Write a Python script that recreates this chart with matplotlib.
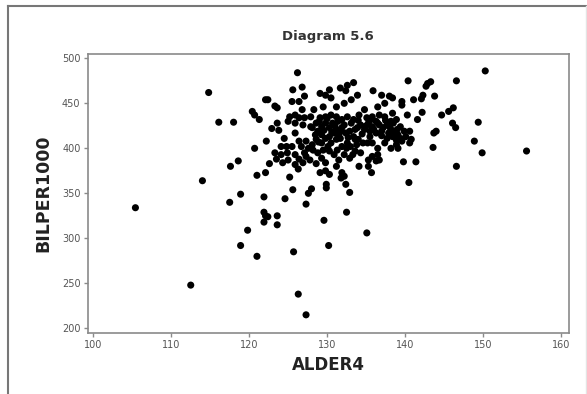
import numpy as np
import matplotlib
matplotlib.use("Agg")
import matplotlib.pyplot as plt
from matplotlib.lines import Line2D

# ALDER4 / BILPER1000 pairs
alder4 = [
    105.4, 112.5, 114.0, 114.8, 116.1, 118.0, 117.6, 118.6, 117.5, 118.9,
    118.9, 119.8, 121.0, 120.7, 120.4, 120.7, 121.3, 121.0, 121.9, 121.9,
    122.1, 121.9, 122.4, 123.6, 123.6, 122.1, 122.4, 123.3, 123.6, 122.2,
    122.1, 122.6, 122.9, 123.6, 123.8, 123.5, 124.6, 125.2, 125.6, 125.7,
    126.3, 127.3, 126.2, 125.6, 124.8, 125.0, 124.3, 125.9, 126.3, 125.9,
    127.3, 127.6, 128.0, 129.6, 129.9, 129.9, 130.2, 132.5, 132.9, 132.4,
    131.8, 135.1, 135.7, 140.5, 139.8, 141.4, 143.6, 146.6, 149.9, 148.9,
    149.4, 155.6, 150.3, 146.6, 140.4, 142.9, 143.3, 142.7, 143.8, 142.3,
    142.1, 141.1, 142.2, 141.6, 140.3, 140.6, 143.7, 144.0, 144.7, 145.6,
    146.2, 146.1, 146.5, 139.6, 139.6,
    126.8, 127.1, 126.4, 129.1, 129.8, 130.3, 130.5, 131.7, 132.4, 132.6,
    133.4, 133.9, 133.1, 132.2, 131.2, 135.9, 137.0, 138.0, 138.4, 136.5,
    137.4, 134.8, 129.5, 128.3, 127.9, 127.1, 125.9, 125.2, 125.0, 125.9,
    126.9, 127.9,
    128.8, 129.3, 129.8, 130.3, 130.7, 131.2, 131.5, 131.9, 132.4, 132.9,
    133.4, 133.9, 134.3, 134.8, 135.3, 135.8, 136.3, 136.7, 137.2, 137.7,
    138.2, 138.7, 139.1, 139.4, 138.9, 138.4, 137.9, 137.0, 136.3, 135.5,
    134.6, 133.6, 132.6, 131.9, 131.2, 130.5, 129.8, 129.3, 128.6, 128.1,
    127.6, 127.1, 126.7, 126.4, 127.3, 128.2, 128.8, 129.3, 129.8, 130.3,
    130.9, 131.5, 132.2, 132.9, 133.6, 134.3, 135.3, 135.8, 136.3, 136.7,
    136.5, 137.4, 138.9, 139.6, 139.9, 140.1, 139.4, 138.9, 138.2, 137.4,
    138.4, 136.7, 135.8, 135.1, 134.1, 133.4, 132.6, 131.9, 131.2, 130.5,
    129.8, 129.1, 128.6, 128.1, 129.3, 130.3, 130.9, 131.7, 133.0, 134.0,
    135.2, 135.8, 135.5, 137.7, 140.6, 140.8, 139.1, 138.2, 127.3, 127.8,
    126.9, 126.4, 125.9, 125.5, 128.6, 129.1, 129.8, 130.3, 131.2, 131.9,
    134.1, 135.3, 136.5, 132.2, 124.5, 124.9, 124.1, 123.3, 124.1, 125.5,
    126.8, 126.4,
    128.5, 129.0, 129.6, 130.0, 130.6, 131.0, 131.4, 131.8, 132.2, 132.7,
    133.1, 133.6, 134.0, 134.5, 135.0, 135.5, 136.0, 136.5, 137.0, 137.5,
    138.0, 138.5, 139.0, 130.1, 131.3, 132.5, 133.3, 129.5, 128.9, 133.8,
]
bilper1000 = [
    334, 248, 364, 462, 429, 429, 380, 386, 340, 349,
    292, 309, 280, 400, 441, 437, 432, 370, 346, 329,
    325, 318, 324, 325, 315, 454, 454, 447, 445, 408,
    373, 383, 422, 428, 420, 388, 344, 368, 354, 285,
    238, 215, 484, 465, 402, 387, 384, 382, 377, 417,
    338, 350, 355, 320, 360, 356, 292, 329, 351, 360,
    367, 306, 373, 362, 385, 385, 401, 380, 395, 408,
    429, 397, 486, 475, 475, 472, 474, 469, 458, 459,
    455, 454, 440, 432, 437, 406, 417, 419, 437, 441,
    445, 428, 423, 452, 448,
    468, 458, 452, 461, 459, 465, 456, 467, 464, 470,
    473, 459, 454, 450, 446, 464, 459, 458, 456, 446,
    450, 443, 446, 443, 435, 434, 437, 435, 430, 428,
    426, 424,
    419, 424, 428, 423, 428, 421, 415, 423, 417, 419,
    413, 423, 426, 421, 428, 424, 430, 426, 423, 426,
    421, 417, 415, 411, 409, 413, 417, 419, 417, 413,
    406, 410, 406, 402, 410, 406, 411, 415, 410, 404,
    400, 395, 402, 408, 408, 398, 395, 389, 384, 397,
    393, 387, 393, 389, 397, 395, 387, 391, 386, 387,
    400, 406, 404, 408, 419, 413, 424, 432, 430, 435,
    439, 437, 435, 434, 437, 432, 435, 432, 435, 437,
    435, 434, 428, 423, 406, 413, 417, 411, 402, 410,
    406, 406, 419, 411, 419, 410, 400, 400, 391, 387,
    384, 388, 393, 402, 383, 373, 375, 371, 380, 373,
    380, 380, 393, 369, 411, 395, 393, 395, 402, 452,
    443, 434,
    415, 430, 420, 433, 418, 425, 430, 419, 426, 412,
    428, 421, 431, 416, 425, 431, 421, 428, 414, 431,
    424, 428, 421, 402, 398, 400, 393, 398, 407, 404,
]

x_ticks = [100, 110, 120, 130, 140, 150, 160]
y_ticks = [200, 250, 300, 350, 400, 450, 500]

W, H = 587, 394
fig = plt.figure(figsize=(W / 100, H / 100), dpi=100)
fig.patch.set_facecolor('white')

# axes box placed in pixels
ax = fig.add_axes([87.5 / W, 1 - 333 / H, (569 - 87.5) / W, (333 - 54) / H])
ax.scatter(alder4, bilper1000, s=26, color='black', edgecolors='none', zorder=3)

ax.set_xlim(99.25, 161.05)
ax.set_ylim(194.8, 504.8)
ax.set_xticks(x_ticks)
ax.set_yticks(y_ticks)

for sp in ax.spines.values():
    sp.set_color('#8a8a8a')
    sp.set_linewidth(1.2)
ax.tick_params(direction='out', length=3, width=1, color='#8a8a8a',
               labelsize=7, labelcolor='#555555', pad=2)

ax.set_title('Diagram 5.6', fontsize=9.5, fontweight='bold', color='#333333', pad=10)
ax.set_xlabel('ALDER4', fontsize=12, fontweight='bold', color='#222222', labelpad=4)
ax.set_ylabel('BILPER1000', fontsize=12.5, fontweight='bold', color='#222222', labelpad=7)

# outer frame of the graph window
fig.add_artist(Line2D([7.5 / W, 7.5 / W], [0, 1 - 6 / H], color='#777777', lw=1.5))
fig.add_artist(Line2D([7.5 / W, 1], [1 - 6 / H, 1 - 6 / H], color='#777777', lw=1.5))
fig.add_artist(Line2D([585.5 / W, 585.5 / W], [0, 1 - 6 / H], color='#e4e4e4', lw=1))

fig.savefig('out.png', dpi=100)
